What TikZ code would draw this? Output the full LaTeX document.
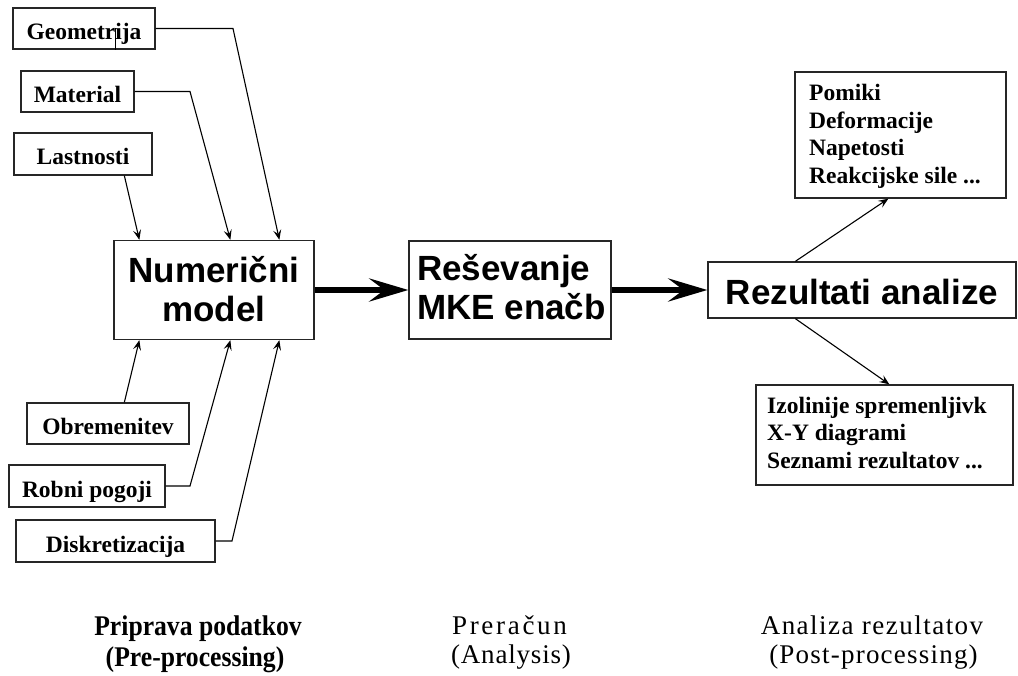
\documentclass[tikz,border=0pt]{standalone}
\usepackage{fontspec}
\setmainfont{Liberation Serif}
\newfontfamily\arialfont{Liberation Sans}
\usetikzlibrary{arrows.meta,calc}
\begin{document}
\begin{tikzpicture}[x=1pt,y=-1pt,
  box/.style={draw=black!85, line width=1.3pt, rectangle, inner sep=0pt},
  small/.style={box, font=\bfseries\fontsize{23.5}{27.5}\selectfont, text height=22pt, text depth=0pt},
  big/.style={font=\arialfont\bfseries\fontsize{35}{39}\selectfont},
  list/.style={font=\bfseries\fontsize{23.5}{27.7}\selectfont, align=left, inner sep=0pt, anchor=south west},
  conn/.style={line width=1.1pt, -{Stealth[length=10pt,width=8pt,inset=4pt]}},
  bigarrow/.style={line width=6pt, -{Stealth[length=39pt,width=23pt,inset=15pt]}},
  lab/.style={anchor=base, inner sep=0pt},
]
\useasboundingbox (0,0) rectangle (1018,676);

% input boxes
\node[small, minimum width=142pt, minimum height=41pt] (geo) at (84,28.5) {Geometrija};
\node[small, minimum width=113pt, minimum height=41pt] (mat) at (77.5,91.5) {Material};
\node[small, minimum width=138pt, minimum height=42pt] (las) at (83,154) {Lastnosti};
\node[small, minimum width=162pt, minimum height=41pt] (obr) at (108,423.5) {Obremenitev};
\node[small, minimum width=156pt, minimum height=42pt] (rob) at (87,486) {Robni pogoji};
\node[small, minimum width=199pt, minimum height=42pt] (dis) at (115.5,541) {Diskretizacija};
\draw[line width=1pt] ([xshift=103pt]geo.south west) -- ++(0,-22);

% main boxes
\node[box, minimum width=200pt, minimum height=99pt] (num) at (214,290) {};
\node[big, align=center, anchor=south, inner sep=0pt] (numT) at (214,322) {Numerični\\model};
\node[box, minimum width=202pt, minimum height=98pt] (res) at (510,290) {};
\node[big, align=left, anchor=south west, inner sep=0pt] (resT) at (417,320) {Reševanje\\MKE enačb};
\node[box, big, minimum width=308pt, minimum height=56pt, text height=30pt, text depth=0pt] (rez) at (862,290) {Rezultati analize};

% output boxes
\node[box, minimum width=211pt, minimum height=126pt] (pom) at (900.5,135) {};
\node[list] (pomT) at (809,188.8) {Pomiki\\Deformacije\\Napetosti\\Reakcijske sile ...};
\node[box, minimum width=257pt, minimum height=100pt] (izo) at (884.5,435) {};
\node[list] (izoT) at (767,469) {Izolinije spremenljivk\\X-Y diagrami\\Seznami rezultatov ...};

% coordinates
\coordinate (nt1) at ([xshift=26pt]num.north west);
\coordinate (nt2) at ([xshift=117pt]num.north west);
\coordinate (nt3) at ([xshift=166pt]num.north west);
\coordinate (nb1) at ([xshift=26pt]num.south west);
\coordinate (nb2) at ([xshift=117pt]num.south west);
\coordinate (nb3) at ([xshift=166pt]num.south west);
\coordinate (g1) at (233,28.5);
\coordinate (m1) at (190,91.5);
\coordinate (lasb) at ([xshift=111pt]las.south west);
\coordinate (obrt) at ([xshift=98pt]obr.north west);
\coordinate (r1) at (190,486);
\coordinate (d1) at (232,541);
\coordinate (rt) at ([xshift=88pt]rez.north west);
\coordinate (rb) at ([xshift=88pt]rez.south west);
\coordinate (pb) at ([xshift=94pt]pom.south west);
\coordinate (it) at ([xshift=134pt]izo.north west);

% connectors
\draw[conn] (geo.east) -- (g1) -- (nt3);
\draw[conn] (mat.east) -- (m1) -- (nt2);
\draw[conn] (lasb) -- (nt1);
\draw[conn] (obrt) -- (nb1);
\draw[conn] (rob.east) -- (r1) -- (nb2);
\draw[conn] (dis.east) -- (d1) -- (nb3);
\draw[bigarrow] (num.east) -- (res.west);
\draw[bigarrow] (res.east) -- (rez.west);
\draw[conn] (rt) -- (pb);
\draw[conn] (rb) -- (it);

% bottom labels
\node[lab, font=\bfseries\fontsize{28.5}{32}\selectfont] (pp1) at (198,635.5) {\scalebox{0.9}[1]{Priprava podatkov}};
\node[lab, font=\bfseries\fontsize{28.5}{32}\selectfont] (pp2) at (195,666) {\scalebox{0.9}[1]{(Pre-processing)}};
\node[lab, font=\fontsize{27}{32}\selectfont\addfontfeature{LetterSpace=10}] (an1) at (509.5,634) {Preračun};
\node[lab, font=\fontsize{27}{32}\selectfont\addfontfeature{LetterSpace=3}] (an2) at (511,663) {(Analysis)};
\node[lab, font=\fontsize{27}{32}\selectfont\addfontfeature{LetterSpace=5.5}] (po1) at (872,634) {Analiza rezultatov};
\node[lab, font=\fontsize{27}{32}\selectfont\addfontfeature{LetterSpace=4.5}] (po2) at (873.5,663) {(Post-processing)};
\end{tikzpicture}
\end{document}
